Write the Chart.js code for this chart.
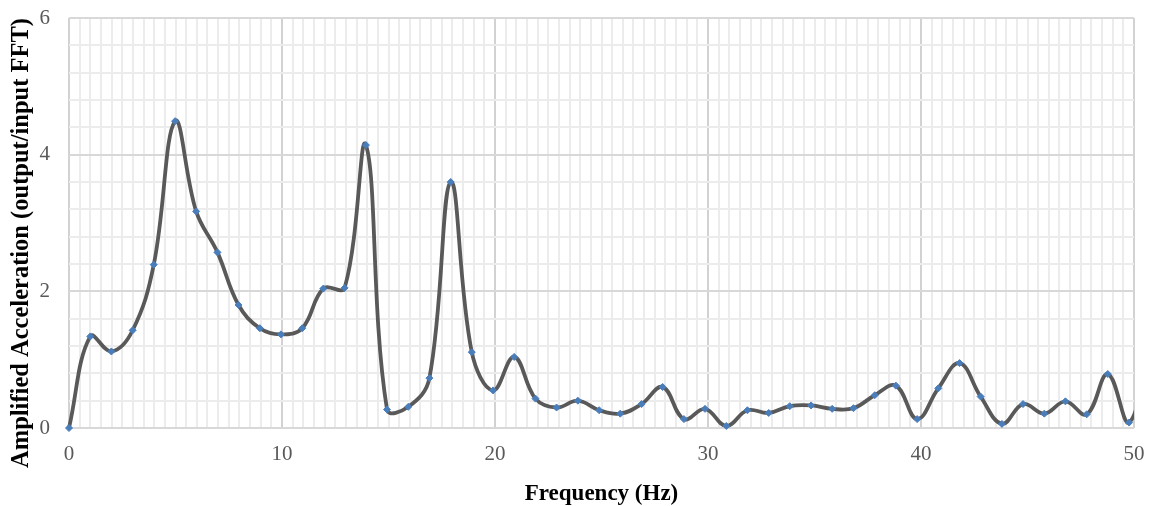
<!DOCTYPE html>
<html>
<head>
<meta charset="utf-8">
<script src="https://cdn.jsdelivr.net/npm/chart.js@4.4.1/dist/chart.umd.min.js"></script>
<style>
  html, body { margin: 0; padding: 0; background: #fff; }
  #wrap { width: 1154px; height: 506px; }
</style>
</head>
<body>
<div id="wrap"><canvas id="fftChart" width="1154" height="506"></canvas></div>
<script>
// frequency of each FFT point (Hz)
var freqs = [0, 1.00, 1.99, 2.99, 3.98, 4.98, 5.97, 6.97, 7.96, 8.96,
  9.95, 10.95, 11.94, 12.94, 13.94, 14.93, 15.93, 16.92, 17.92, 18.91,
  19.91, 20.90, 21.90, 22.89, 23.89, 24.89, 25.88, 26.88, 27.87, 28.87,
  29.86, 30.86, 31.85, 32.85, 33.84, 34.84, 35.83, 36.83, 37.83, 38.82,
  39.82, 40.81, 41.81, 42.80, 43.80, 44.79, 45.79, 46.78, 47.78, 48.77,
  49.77, 50.76];

// amplified acceleration (output/input FFT)
var ampl = [0, 1.34, 1.12, 1.43, 2.39, 4.49, 3.17, 2.57, 1.80, 1.46,
  1.37, 1.46, 2.04, 2.05, 4.14, 0.27, 0.31, 0.73, 3.60, 1.11,
  0.55, 1.04, 0.43, 0.30, 0.40, 0.26, 0.21, 0.35, 0.60, 0.13,
  0.28, 0.03, 0.26, 0.22, 0.32, 0.33, 0.28, 0.29, 0.48, 0.62,
  0.13, 0.58, 0.95, 0.46, 0.06, 0.35, 0.21, 0.39, 0.20, 0.79,
  0.08, 1.30];

var xTickLabels = ['0', '10', '20', '30', '40', '50'];
var yTickLabels = ['0', '2', '4', '6'];
var yTitle = 'Amplified Acceleration (output/input FFT)';

function isMajor(v, step) {
  return Math.abs(v / step - Math.round(v / step)) < 1e-6;
}

// y title is drawn by hand: in the original it sits lower than the plot centre
var yTitlePlugin = {
  id: 'yTitle',
  afterDraw: function(chart) {
    var c = chart.ctx;
    c.save();
    c.translate(22, 243);
    c.rotate(-Math.PI / 2);
    c.font = 'bold 24.5px "Liberation Serif"';
    c.fillStyle = '#000';
    c.textAlign = 'center';
    c.textBaseline = 'middle';
    c.fillText(yTitle, 0, 0);
    c.restore();
  }
};

function init() {
  var points = [];
  for (var i = 0; i < freqs.length; i++) {
    points.push({ x: freqs[i], y: ampl[i] });
  }

  var ctx = document.getElementById('fftChart').getContext('2d');
  var chart = new Chart(ctx, {
    type: 'line',
    data: {
      datasets: [{
        data: points,
        borderColor: '#595959',
        borderWidth: 3.8,
        tension: 0.4,
        pointStyle: 'rectRot',
        pointRadius: 3.5,
        pointBackgroundColor: '#4a7ebb',
        pointBorderColor: '#4a7ebb',
        pointBorderWidth: 1,
        clip: { left: 6, top: 6, right: 0, bottom: 6 }
      }]
    },
    plugins: [yTitlePlugin],
    options: {
      responsive: false,
      animation: false,
      layout: { padding: { top: 5, right: 20, bottom: 0, left: 8 } },
      plugins: { legend: { display: false }, tooltip: { enabled: false } },
      scales: {
        x: {
          type: 'linear',
          min: 0,
          max: 50,
          border: { display: false },
          grid: {
            drawTicks: false,
            lineWidth: 2,
            color: function(c) {
              return c.tick && isMajor(c.tick.value, 10) ? '#d2d2d2' : '#ececec';
            }
          },
          ticks: {
            stepSize: 0.5,
            autoSkip: false,
            maxRotation: 0,
            padding: 14,
            color: '#595959',
            font: { family: 'Liberation Serif', size: 21 },
            callback: function(v) {
              if (!isMajor(v, 10)) return '';
              var s = String(Math.round(v));
              return xTickLabels.indexOf(s) >= 0 ? s : '';
            }
          },
          title: {
            display: true,
            text: 'Frequency (Hz)',
            color: '#000',
            padding: { top: 10, bottom: -2 },
            font: { family: 'Liberation Serif', size: 23, weight: 'bold' }
          },
          afterFit: function(scale) {
            scale.height = 78;
            scale.paddingLeft = 0;
            scale.paddingRight = 0;
          }
        },
        y: {
          min: 0,
          max: 6,
          border: { display: false },
          grid: {
            drawTicks: false,
            lineWidth: 2,
            color: function(c) {
              return c.tick && isMajor(c.tick.value, 2) ? '#d8d8d8' : '#ececec';
            }
          },
          ticks: {
            stepSize: 0.4,
            autoSkip: false,
            padding: 19,
            color: '#595959',
            font: { family: 'Liberation Serif', size: 21 },
            callback: function(v) {
              if (!isMajor(v, 2)) return '';
              var s = String(Math.round(v));
              return yTickLabels.indexOf(s) >= 0 ? s : '';
            }
          },
          title: { display: false },
          afterFit: function(scale) {
            scale.width = 61;
            scale.paddingTop = 18;
            scale.paddingBottom = 0;
          }
        }
      }
    }
  });
}

init();
</script>
</body>
</html>
